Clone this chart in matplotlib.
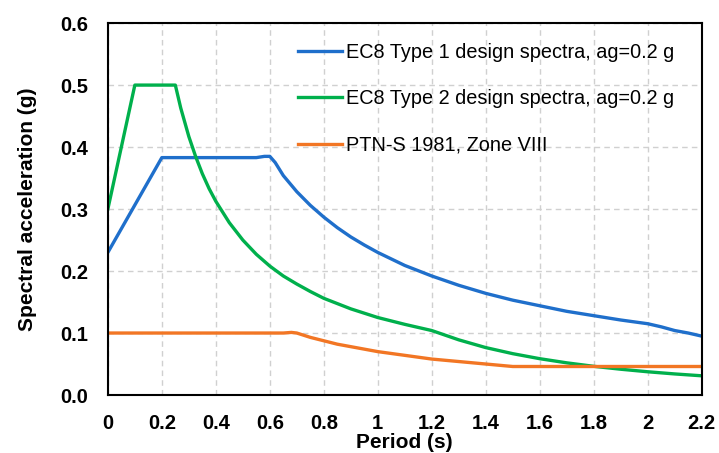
import numpy as np
import matplotlib.pyplot as plt
from matplotlib.ticker import FormatStrFormatter, FuncFormatter

plt.rcParams['font.family'] = ['Liberation Sans', 'DejaVu Sans']

# EC8 Type 1 design spectrum, ag = 0.2 g
t_type1 = [0, 0.2, 0.55, 0.58, 0.6, 0.62, 0.65, 0.7, 0.75, 0.8, 0.85, 0.9, 0.95,
           1.0, 1.1, 1.2, 1.3, 1.4, 1.5, 1.6, 1.7, 1.8, 1.9, 2.0, 2.05, 2.1,
           2.15, 2.2]
sa_type1 = [0.23, 0.383, 0.383, 0.385, 0.385, 0.375, 0.354, 0.328, 0.306, 0.287,
            0.27, 0.255, 0.242, 0.23, 0.209, 0.192, 0.177, 0.164, 0.153, 0.144,
            0.135, 0.128, 0.121, 0.115, 0.11, 0.104, 0.1, 0.095]

# EC8 Type 2 design spectrum, ag = 0.2 g
t_type2 = [0, 0.1, 0.25, 0.27, 0.3, 0.325, 0.35, 0.375, 0.4, 0.45, 0.5, 0.55, 0.6,
           0.65, 0.7, 0.75, 0.8, 0.9, 1.0, 1.1, 1.2, 1.3, 1.4, 1.5, 1.6, 1.7, 1.8,
           1.9, 2.0, 2.1, 2.2]
sa_type2 = [0.3, 0.5, 0.5, 0.463, 0.417, 0.385, 0.357, 0.333, 0.3125, 0.278, 0.25,
            0.227, 0.208, 0.192, 0.179, 0.167, 0.156, 0.139, 0.125, 0.114, 0.104,
            0.089, 0.0765, 0.0667, 0.0586, 0.0519, 0.0463, 0.0416, 0.0375, 0.034,
            0.031]

# PTN-S 1981, Zone VIII
t_ptn = [0, 0.65, 0.68, 0.7, 0.75, 0.8, 0.85, 0.9, 0.95, 1.0, 1.1, 1.2, 1.3, 1.4,
         1.5, 1.6, 2.2]
sa_ptn = [0.1, 0.1, 0.101, 0.1, 0.093, 0.0875, 0.082, 0.078, 0.074, 0.07, 0.064,
          0.058, 0.054, 0.05, 0.046, 0.046, 0.046]

x_ticks = [0, 0.2, 0.4, 0.6, 0.8, 1.0, 1.2, 1.4, 1.6, 1.8, 2.0, 2.2]
y_ticks = [0.0, 0.1, 0.2, 0.3, 0.4, 0.5, 0.6]

fig = plt.figure(figsize=(7.19, 4.53), dpi=100)
ax = fig.add_axes([0.150, 0.128, 0.826, 0.821])

ax.plot(t_type1, sa_type1, color='#1F6FCB', lw=2.4,
        label='EC8 Type 1 design spectra, ag=0.2 g')
ax.plot(t_type2, sa_type2, color='#00B04C', lw=2.4,
        label='EC8 Type 2 design spectra, ag=0.2 g')
ax.plot(t_ptn, sa_ptn, color='#F27624', lw=2.4,
        label='PTN-S 1981, Zone VIII')

ax.set_xlim(0, 2.2)
ax.set_ylim(0, 0.6)
ax.set_xticks(x_ticks)
ax.set_yticks(y_ticks)
ax.xaxis.set_major_formatter(FuncFormatter(lambda v, p: '{:g}'.format(round(v, 1))))
ax.yaxis.set_major_formatter(FormatStrFormatter('%.1f'))
ax.tick_params(axis='y', length=0, labelsize=14.5, pad=14)
ax.tick_params(axis='x', length=0, labelsize=14.5, pad=14)
for lab in ax.get_xticklabels() + ax.get_yticklabels():
    lab.set_fontweight('bold')

ax.grid(True, ls=(0, (4, 3)), color='#D0D0D0', lw=1)
ax.set_axisbelow(True)
for s in ax.spines.values():
    s.set_linewidth(1.5)
    s.set_color('black')

ax.set_xlabel('Period (s)', fontsize=15, fontweight='bold', labelpad=0)
ax.set_ylabel('Spectral acceleration (g)', fontsize=15, fontweight='bold', labelpad=17)

ax.legend(loc='upper left', bbox_to_anchor=(298 / 719, 1 - 43 / 453),
          bbox_transform=fig.transFigure, frameon=False, fontsize=14.3,
          handlelength=2.2, handletextpad=0.2, labelspacing=1.38,
          borderpad=0, borderaxespad=0)

fig.savefig('out.png', dpi=100)
